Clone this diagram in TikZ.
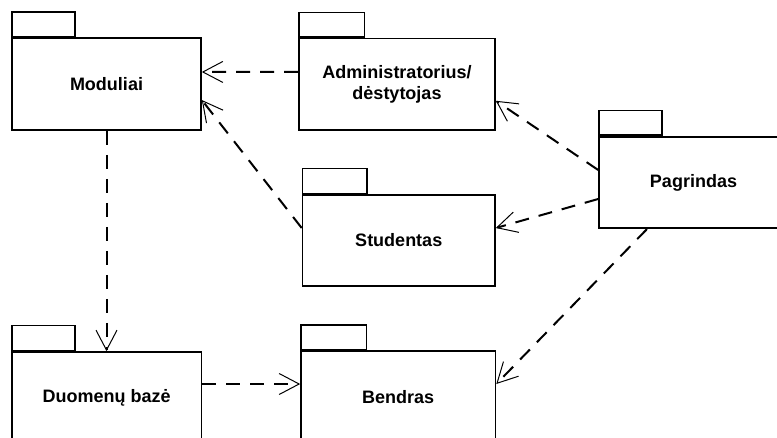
\documentclass[tikz,border=0pt]{standalone}
\usepackage{fontspec}
\setmainfont{Liberation Sans}
\usetikzlibrary{arrows.meta}

\tikzset{
  pkgbody/.style={draw, line width=1.6pt, fill=white, rectangle, inner sep=0pt,
    align=center, font=\fontsize{18}{21}\selectfont\bfseries},
  pkgtab/.style={draw, line width=1.6pt, fill=white, rectangle, inner sep=0pt,
    minimum width=64pt, minimum height=24.5pt, anchor=south west},
  dep/.style={line width=2pt, dash pattern=on 14pt off 10pt,
    -{Straight Barb[length=20pt,width=21pt,line width=1pt]}},
}

\begin{document}
\begin{tikzpicture}[x=1pt, y=-1pt]
  \clip (0,0) rectangle (777,437);
  \fill[white] (0,0) rectangle (777,437);

  % package bodies
  \node[pkgbody, minimum width=189pt, minimum height=92pt] (mod) at (106.5,84) {Moduliai};
  \node[pkgbody, minimum width=196pt, minimum height=91.5pt] (adm) at (397,84.25) {Administratorius/\\dėstytojas};
  \node[pkgbody, minimum width=192.5pt, minimum height=91pt] (stu) at (398.75,240.5) {Studentas};
  \node[pkgbody, minimum width=189pt, minimum height=91.5pt] (pag) at (693.5,182.5) {Pagrindas};
  \node[pkgbody, minimum width=189.5pt, minimum height=92pt] (duo) at (106.75,398) {Duomenų bazė};
  \node[pkgbody, minimum width=194.5pt, minimum height=92pt] (ben) at (398.25,397) {Bendras};

  % package tabs
  \node[pkgtab, minimum width=63pt] (modtab) at (mod.north west) {};
  \node[pkgtab, minimum width=65.5pt] (admtab) at (adm.north west) {};
  \node[pkgtab, minimum width=64.5pt, minimum height=25pt] (stutab) at (stu.north west) {};
  \node[pkgtab, minimum width=63pt] (pagtab) at (pag.north west) {};
  \node[pkgtab, minimum width=63pt, minimum height=25pt] (duotab) at (duo.north west) {};
  \node[pkgtab, minimum width=65.5pt] (bentab) at (ben.north west) {};

  % dependencies
  \draw[dep] ([yshift=12.5pt]adm.west) -- ([yshift=12pt]mod.east);
  \draw[dep] ([yshift=12.5pt]stu.west) -- ([yshift=-16pt]mod.east);
  \draw[dep] ([yshift=12.5pt]pag.west) -- ([yshift=-16.5pt]adm.east);
  \draw[dep] ([yshift=-16.5pt]pag.west) -- ([yshift=12.5pt]stu.east);
  \draw[dep] ([xshift=-46.5pt]pag.south) -- ([yshift=13pt]ben.east);
  \draw[dep] (mod.south) -- (mod.south |- duo.north);
  \draw[dep] ([yshift=14pt]duo.east) -- ([yshift=14pt]duo.east -| ben.west);
\end{tikzpicture}
\end{document}
